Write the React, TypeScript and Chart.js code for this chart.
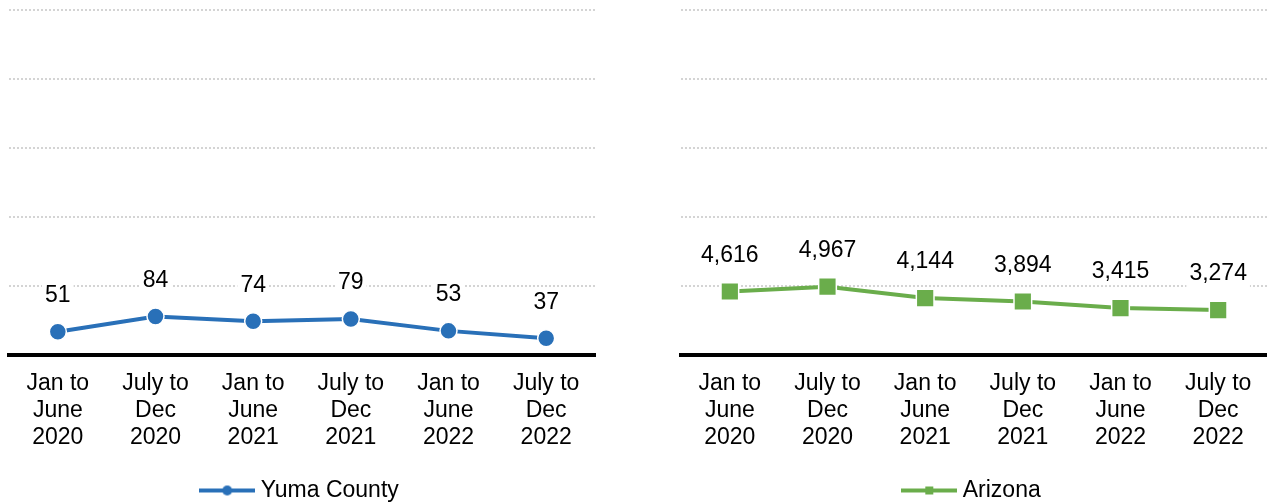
import React, { useEffect, useRef } from "react";
import { Chart, registerables } from "chart.js";
Chart.register(...registerables);

const categories: string[][] = [
  ["Jan to", "June", "2020"],
  ["July to", "Dec", "2020"],
  ["Jan to", "June", "2021"],
  ["July to", "Dec", "2021"],
  ["Jan to", "June", "2022"],
  ["July to", "Dec", "2022"],
];
const yumaLabel = "Yuma County";
const yumaValues = [51, 84, 74, 79, 53, 37];
const arizonaLabel = "Arizona";
const arizonaValues = [4616, 4967, 4144, 3894, 3415, 3274];
const yumaAxis = { max: 750, step: 150 };
const arizonaAxis = { max: 25000, step: 5000 };

const FONT = "'Liberation Sans', Arial, sans-serif";
const BLUE = "#2970B8";
const GREEN = "#6AAD4B";
const PAD = 14;
const PLOT_W = 586;

function makeLegendImage(color: string, marker: "circle" | "rect") {
  const c = document.createElement("canvas");
  c.width = 56;
  c.height = 20;
  const ctx = c.getContext("2d")!;
  ctx.strokeStyle = color;
  ctx.lineWidth = 4;
  ctx.beginPath();
  ctx.moveTo(0, 10);
  ctx.lineTo(56, 10);
  ctx.stroke();
  ctx.fillStyle = color;
  if (marker === "circle") {
    ctx.beginPath();
    ctx.arc(28, 10, 5, 0, Math.PI * 2);
    ctx.fill();
  } else {
    ctx.fillRect(24, 6, 8, 8);
  }
  return c;
}

const dataLabelPlugin = {
  id: "dataLabels",
  afterDatasetsDraw(chart: any) {
    const ctx = chart.ctx;
    const meta = chart.getDatasetMeta(0);
    const data = chart.data.datasets[0].data as number[];
    ctx.save();
    ctx.font = `23px ${FONT}`;
    ctx.textAlign = "center";
    ctx.textBaseline = "middle";
    meta.data.forEach((pt: any, i: number) => {
      const text = data[i].toLocaleString("en-US");
      const w = ctx.measureText(text).width;
      const x = pt.x;
      const y = pt.y - 36;
      ctx.fillStyle = "#ffffff";
      ctx.fillRect(x - w / 2 - 3, y - 13, w + 6, 26);
      ctx.fillStyle = "#000000";
      ctx.fillText(text, x, y);
    });
    ctx.restore();
  },
};

function LineChart(props: {
  label: string;
  values: number[];
  color: string;
  marker: "circle" | "rect";
  axis: { max: number; step: number };
}) {
  const ref = useRef<HTMLCanvasElement | null>(null);
  useEffect(() => {
    if (!ref.current) return;
    const img = makeLegendImage(props.color, props.marker);
    const chart = new Chart(ref.current, {
      type: "line",
      data: {
        labels: categories,
        datasets: [
          {
            label: props.label,
            data: props.values,
            borderColor: props.color,
            backgroundColor: props.color,
            borderWidth: 4,
            pointStyle: props.marker,
            pointRadius: props.marker === "circle" ? 8.5 : 12.5,
            pointBackgroundColor: props.color,
            pointBorderColor: "#ffffff",
            pointBorderWidth: 1.5,
            tension: 0,
          },
        ],
      },
      options: {
        animation: false,
        responsive: false,
        maintainAspectRatio: false,
        layout: { padding: { left: PAD, right: PAD, top: PAD, bottom: -8 } },
        plugins: {
          tooltip: { enabled: false },
          legend: {
            display: true,
            position: "bottom",
            labels: {
              usePointStyle: true,
              pointStyleWidth: 44,
              padding: 13,
              color: "#000",
              font: { family: FONT, size: 23 },
              generateLabels: () => [
                {
                  text: props.label,
                  pointStyle: img,
                  fillStyle: props.color,
                  strokeStyle: props.color,
                  lineWidth: 0,
                  hidden: false,
                  datasetIndex: 0,
                  fontColor: "#000",
                },
              ],
            },
          },
        },
        scales: {
          x: {
            offset: true,
            grid: { display: false, drawTicks: false },
            border: { display: true, color: "#000000", width: 4 },
            ticks: {
              color: "#000",
              font: { family: FONT, size: 23, lineHeight: 1.17 },
              padding: 15,
              maxRotation: 0,
              autoSkip: false,
            },
          },
          y: {
            min: 0,
            max: props.axis.max,
            ticks: { display: false, stepSize: props.axis.step },
            border: { display: false, dash: [2, 2] },
            grid: { color: "#d4d4d4", lineWidth: 2, drawTicks: false, tickLength: 0 },
          },
        },
      },
      plugins: [dataLabelPlugin],
    });
    return () => chart.destroy();
  }, []);
  return <canvas ref={ref} width={PLOT_W + 2 * PAD} height={508} style={{ display: "block" }} />;
}

export default function App() {
  return (
    <div style={{ position: "fixed", left: 0, top: 0, width: 1267, height: 504, background: "#fff", overflow: "hidden" }}>
      <div style={{ position: "absolute", left: 9 - PAD, top: 10 - PAD }}>
        <LineChart label={yumaLabel} values={yumaValues} color={BLUE} marker="circle" axis={yumaAxis} />
      </div>
      <div style={{ position: "absolute", left: 681 - PAD, top: 10 - PAD }}>
        <LineChart label={arizonaLabel} values={arizonaValues} color={GREEN} marker="rect" axis={arizonaAxis} />
      </div>
    </div>
  );
}
